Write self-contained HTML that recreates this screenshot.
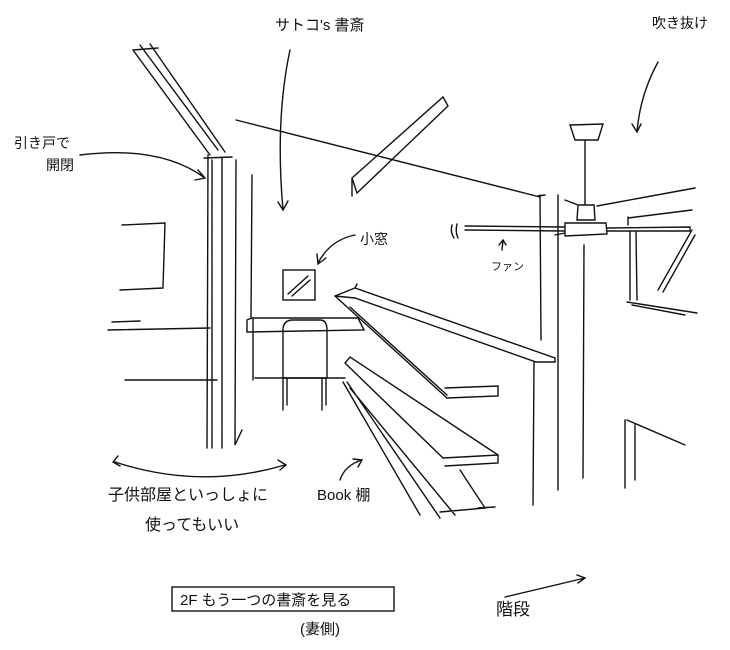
<!DOCTYPE html>
<html><head><meta charset="utf-8"><style>
body{margin:0;background:#fff;}
svg{display:block}
text{font-family:"Liberation Sans","Noto Sans CJK JP",sans-serif;fill:#111}
</style></head><body>
<svg width="730" height="650" viewBox="0 0 730 650" xmlns="http://www.w3.org/2000/svg">
<g stroke="#111" stroke-width="1.4" fill="none" stroke-linecap="round">
<!-- left diagonal beam -->
<path d="M133 50 L210 155 M140 45 L218 150 M150 44 L225 152 M133 50 L158 48"/>
<!-- left column -->
<path d="M208 155 L207 448 M212 160 L212 448 M222 158 L222 448 M236 160 L235 445 L242 430 M204 158 L232 157"/>
<!-- wall lines -->
<path d="M252 175 L251 318 M253 380 L253 318"/>
<!-- left window -->
<path d="M122 225 L165 223 L163 287 M120 290 L163 288"/>
<!-- left shelves -->
<path d="M108 330 L210 328 M112 322 L140 321 M125 380 L217 380"/>
<!-- ceiling line -->
<path d="M236 120 L540 197"/>
<!-- diagonal ceiling beam -->
<path d="M352 178 L443 97 L448 106 L357 193 L352 178 M352 178 L352 196"/>
<!-- arrows -->
<path d="M80 155 Q160 145 205 178 M198 170 L205 178 L195 180"/>
<path d="M290 50 Q275 120 283 210 M278 202 L283 210 L288 201"/>
<path d="M355 235 Q330 240 318 263 M317 254 L318 264 L326 258"/>
<path d="M658 62 Q640 95 637 132 M632 124 L637 132 L641 124"/>
<path d="M115 462 Q200 490 285 465 M118 456 L113 462 L120 466 M278 460 L286 465 L280 470"/>
<path d="M340 480 Q345 465 362 460 M353 459 L362 460 L358 467"/>
<path d="M505 597 L585 578 M577 575 L585 578 L578 583"/>
<path d="M502 250 L503 240 M499 245 L503 240 L506 245"/>
<!-- small window -->
<rect x="283" y="270" width="32" height="30"/>
<path d="M288 294 L308 276 M292 296 L310 280"/>
<!-- desk -->
<path d="M247 320 L252 318 L358 318 L364 330 L247 332 Z"/>
<path d="M255 378 L345 378"/>
<!-- chair -->
<path d="M283 330 Q283 320 293 320 L320 320 Q327 320 327 330 L327 378 L283 378 Z M283 378 L283 410 M287 378 L287 405 M322 378 L322 410 M326 378 L326 405"/>
<!-- top shelf / counter -->
<path d="M335 296 L355 288 L555 358 L555 362 L536 362 L355 298 L335 296 M355 288 L357 284 M534 362 L533 505"/>
<path d="M335 296 L447 398 L498 396 L498 386 L445 388 M350 307 L447 395"/>
<!-- second shelf -->
<path d="M345 363 L443 458 L498 455 L498 463 L445 466 M345 363 L350 357 L498 455"/>
<!-- third shelf -->
<path d="M343 382 L420 515 M347 382 L440 518 M460 470 L485 508 L440 512 M350 388 L455 515 M478 508 L495 507"/>
<!-- right column -->
<path d="M540 195 L541 340 M558 195 L558 490 M584 245 L583 478 M538 196 L545 195"/>
<!-- fan -->
<path d="M570 125 L603 124 L598 140 L575 140 Z M585 140 L585 205 M578 205 L594 205 L595 220 L577 220 Z M565 223 L606 223 L607 234 L565 236 Z M465 226 L565 227 L565 231 L465 230 M607 228 L690 227 L690 231 L607 231 M597 206 L695 188 M565 200 L578 205 M555 235 L565 233"/>
<path d="M452 225 Q450 232 454 238 M457 224 Q455 232 458 238"/>
<!-- right window -->
<path d="M628 218 L692 210 M630 232 L630 300 M636 232 L637 300 M628 217 L628 225 M627 302 L697 313 M632 305 L685 315 M692 230 L658 290 M695 235 L663 292"/>
<path d="M625 420 L625 488 M635 425 L635 480 M627 420 L685 445"/>
<!-- caption box -->
<rect x="172" y="587" width="222" height="24"/>
</g>
<g font-size="15">
<text x="275" y="30">サトコ's 書斎</text>
<text x="652" y="28" font-size="14">吹き抜け</text>
<text x="14" y="148" font-size="14">引き戸で</text>
<text x="46" y="170" font-size="14">開閉</text>
<text x="360" y="244" font-size="14">小窓</text>
<text x="491" y="270" font-size="11">ファン</text>
<text x="108" y="500" font-size="16">子供部屋といっしょに</text>
<text x="145" y="530" font-size="16">使ってもいい</text>
<text x="317" y="500" font-size="15">Book 棚</text>
<text x="180" y="605" font-size="15">2F もう一つの書斎を見る</text>
<text x="300" y="634" font-size="15">(妻側)</text>
<text x="496" y="615" font-size="17">階段</text>
</g>
</svg>
</body></html>
